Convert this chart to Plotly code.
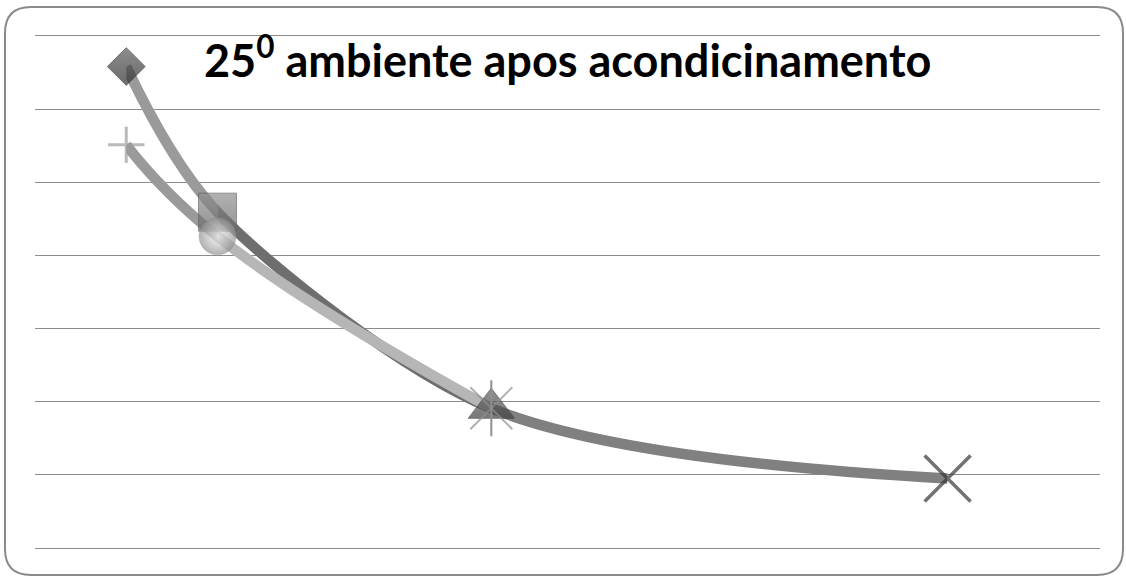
import plotly.graph_objects as go

# ---- data -------------------------------------------------------------
title_text = "25<sup>0</sup> ambiente apos acondicinamento"

# series A: four readings
xa = [1, 2, 5, 10]
ya = [65.8, 45.9, 19.1, 9.5]
sym_a = ["diamond", "square", "triangle-up", "x-thin-open"]
seg_col_a = ["#9a9a9a", "#6e6e6e", "#808080"]
seg_smooth_a = [1.0, 0.8, 1.0]

# series B: three readings
xb = [1, 2, 5]
yb = [55.1, 42.6, 19.1]
sym_b = ["cross-thin-open", "circle", "x-thin-open"]
seg_col_b = ["#9a9a9a", "#b6b6b6"]
seg_smooth_b = [1.3, 1.3]

X_MAX = 11.67
Y_MAX = 70
Y_STEP = 10
Y_TOP = Y_MAX + 0.25   # a little headroom so the top grid line is kept

# ---- geometry ---------------------------------------------------------
W, H = 1126, 577
ML, MR, MT, MB = 35, 26, 34, 29
PW, PH = W - ML - MR, H - MT - MB


def px_to_paper(px, py):
    return (px - ML) / PW, (H - MB - py) / PH


fig = go.Figure()

# base subplot: carries the horizontal grid only
fig.add_trace(go.Scatter(x=[], y=[], xaxis="x", yaxis="y", showlegend=False,
                         hoverinfo="skip"))

layout_axes = {}

# Each line segment lives in its own clipped subplot so that a smooth
# curve through the whole series can be coloured piece by piece.
n = 2
for xs, ys, cols, smooths in ((xa, ya, seg_col_a, seg_smooth_a),
                              (xb, yb, seg_col_b, seg_smooth_b)):
    for i, (col, sm) in enumerate(zip(cols, smooths)):
        x0, x1 = xs[i], xs[i + 1]
        fig.add_trace(go.Scatter(
            x=xs, y=ys, mode="lines",
            line=dict(color=col, width=10.5, shape="spline", smoothing=sm),
            xaxis=f"x{n}", yaxis=f"y{n}", hoverinfo="skip", showlegend=False,
        ))
        layout_axes[f"xaxis{n}"] = dict(domain=[x0 / X_MAX, x1 / X_MAX], range=[x0, x1],
                                        visible=False, anchor=f"y{n}", fixedrange=True)
        layout_axes[f"yaxis{n}"] = dict(domain=[0, 1], range=[0, Y_TOP],
                                        visible=False, anchor=f"x{n}", fixedrange=True)
        n += 1

# markers on a full-size subplot drawn last
mk = n
layout_axes[f"xaxis{mk}"] = dict(domain=[0, 1], range=[0, X_MAX], visible=False,
                                 anchor=f"y{mk}", fixedrange=True)
layout_axes[f"yaxis{mk}"] = dict(domain=[0, 1], range=[0, Y_TOP], visible=False,
                                 anchor=f"x{mk}", fixedrange=True)

fig.add_trace(go.Scatter(
    x=xa, y=ya, mode="markers", cliponaxis=False,
    marker=dict(
        symbol=sym_a,
        size=[29, 38, 40, 46],
        color=["#5c5c5c", "#909090", "#626262", "#363636"],
        gradient=dict(type=["vertical", "vertical", "vertical", "none"],
                      color=["#2c2c2c", "#686868", "#404040", "#363636"]),
        line=dict(color=["#333333", "#606060", "#3c3c3c", "#363636"],
                  width=[1, 1, 1, 3.5]),
    ),
    xaxis=f"x{mk}", yaxis=f"y{mk}", hoverinfo="skip", showlegend=False,
))

fig.add_trace(go.Scatter(
    x=xb, y=yb, mode="markers", cliponaxis=False,
    marker=dict(
        symbol=sym_b,
        size=[26, 37, 42],
        color=["#9c9c9c", "#909090", "#8f8f8f"],
        gradient=dict(type=["none", "radial", "none"],
                      color=["#9c9c9c", "#f4f4f4", "#8f8f8f"]),
        line=dict(color=["#9c9c9c", "#909090", "#8f8f8f"], width=[3, 0.5, 2]),
    ),
    xaxis=f"x{mk}", yaxis=f"y{mk}", hoverinfo="skip", showlegend=False,
))

# vertical stroke completing the star marker on the last point of series B
fig.add_trace(go.Scatter(
    x=xb[-1:], y=yb[-1:], mode="markers", cliponaxis=False,
    marker=dict(symbol="line-ns-open", size=40, color="#8f8f8f",
                line=dict(color="#8f8f8f", width=2)),
    xaxis=f"x{mk}", yaxis=f"y{mk}", hoverinfo="skip", showlegend=False,
))

# ---- rounded chart border ---------------------------------------------
bx0, by0, bx1, by1, r = 5, 7, 1123, 575, 26
pts = {
    "a": px_to_paper(bx0 + r, by0), "b": px_to_paper(bx1 - r, by0),
    "c": px_to_paper(bx1, by0), "d": px_to_paper(bx1, by0 + r),
    "e": px_to_paper(bx1, by1 - r), "f": px_to_paper(bx1, by1),
    "g": px_to_paper(bx1 - r, by1), "h": px_to_paper(bx0 + r, by1),
    "i": px_to_paper(bx0, by1), "j": px_to_paper(bx0, by1 - r),
    "k": px_to_paper(bx0, by0 + r), "l": px_to_paper(bx0, by0),
}
P = lambda k: f"{pts[k][0]:.5f},{pts[k][1]:.5f}"
border_path = (f"M{P('a')} L{P('b')} Q{P('c')} {P('d')} L{P('e')} Q{P('f')} {P('g')} "
               f"L{P('h')} Q{P('i')} {P('j')} L{P('k')} Q{P('l')} {P('a')} Z")

fig.update_layout(
    width=W, height=H,
    margin=dict(l=ML, r=MR, t=MT, b=MB, pad=0),
    paper_bgcolor="white", plot_bgcolor="rgba(0,0,0,0)",
    showlegend=False,
    xaxis=dict(range=[0, X_MAX], showgrid=False, zeroline=False, showticklabels=False,
               ticks="", showline=False, fixedrange=True),
    yaxis=dict(range=[0, Y_TOP], dtick=Y_STEP, showgrid=True, gridcolor="#8c8c8c",
               gridwidth=1.2, zeroline=True, zerolinecolor="#8c8c8c", zerolinewidth=1.2,
               showticklabels=False, ticks="", showline=False, fixedrange=True),
    shapes=[dict(type="path", path=border_path, xref="paper", yref="paper",
                 line=dict(color="#8a8a8a", width=2), fillcolor="rgba(0,0,0,0)",
                 layer="below")],
    annotations=[dict(text=title_text, xref="paper", yref="paper",
                      x=px_to_paper(567, 0)[0], y=px_to_paper(0, 57)[1],
                      xanchor="center", yanchor="middle", showarrow=False,
                      font=dict(family="Lato", size=45, color="black", weight="bold"))],
    **layout_axes,
)

fig.write_html("out.html")
